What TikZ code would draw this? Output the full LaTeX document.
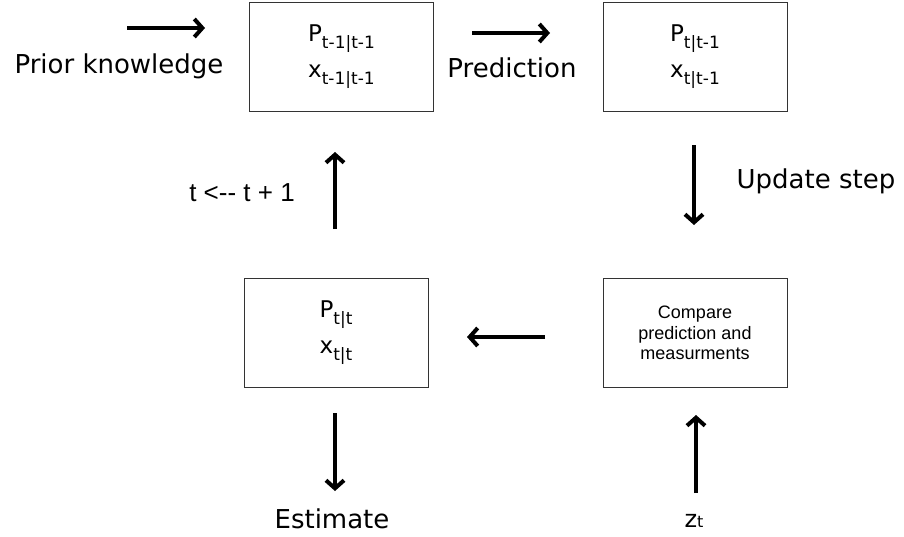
\documentclass[tikz,border=0pt]{standalone}
\usepackage{fontspec}
\setmainfont{DejaVu Sans}
\newfontfamily\arialfont{Liberation Sans}
\usetikzlibrary{arrows.meta}

\newcommand\lowsub[1]{\raisebox{-0.3em}{\fontsize{17}{17}\selectfont #1}}

\begin{document}
\begin{tikzpicture}[
    x=1pt, y=-1pt,
    stage/.style={draw=black!80, line width=0.9pt, minimum width=184pt,
        minimum height=109pt, inner sep=0pt, align=center,
        font=\fontsize{23}{36}\selectfont},
    flow/.style={line width=4pt,
        -{Straight Barb[length=8pt, width=18pt, line width=4pt]}},
    lbl/.style={font=\fontsize{26}{30}\selectfont, anchor=base, inner sep=0pt},
]
\useasboundingbox (0,0) rectangle (904,536);

% The four boxes
\node[stage] (prior)   at (341.5,57)  {P\lowsub{t-1|t-1}\\x\lowsub{t-1|t-1}};
\node[stage] (predict) at (695,56.5)  {P\lowsub{t|t-1}\\x\lowsub{t|t-1}};
\node[stage] (estim)   at (336,332.5) {P\lowsub{t|t}\\x\lowsub{t|t}};
\node[stage, font=\arialfont\fontsize{18}{20.5}\selectfont]
    (compare) at (695,333) {Compare\\prediction and\\measurments};

% Arrow ends
\coordinate (priorS) at (127,28);   \coordinate (priorE) at (205,28);
\coordinate (predS)  at (472,33);   \coordinate (predE)  at (550,33);
\coordinate (updS)   at (694,145);  \coordinate (updE)   at (694,225);
\coordinate (cmpS)   at (545,337);  \coordinate (cmpE)   at (467,337);
\coordinate (loopS)  at (335,229);  \coordinate (loopE)  at (335,152);
\coordinate (outS)   at (335,413);  \coordinate (outE)   at (335,491);
\coordinate (measS)  at (696,493);  \coordinate (measE)  at (696,415);

\foreach \a/\b in {priorS/priorE, predS/predE, updS/updE, cmpS/cmpE,
                   loopS/loopE, outS/outE, measS/measE}
    \draw[flow] (\a) -- (\b);

% Labels
\node[lbl] (priorLbl) at (119,73)  {Prior knowledge};
\node[lbl] (predLbl)  at (512,77)  {Prediction};
\node[lbl] (updLbl)   at (816,188) {Update step};
\node[lbl] (outLbl)   at (332,528) {Estimate};
\node[lbl, font=\arialfont\fontsize{26}{30}\selectfont]
    (loopLbl) at (242,201) {t <-{}- t + 1};
\node[lbl, font=\fontsize{24}{26}\selectfont]
    (measLbl) at (694,527) {z{\fontsize{16}{16}\selectfont t}};

\end{tikzpicture}
\end{document}
